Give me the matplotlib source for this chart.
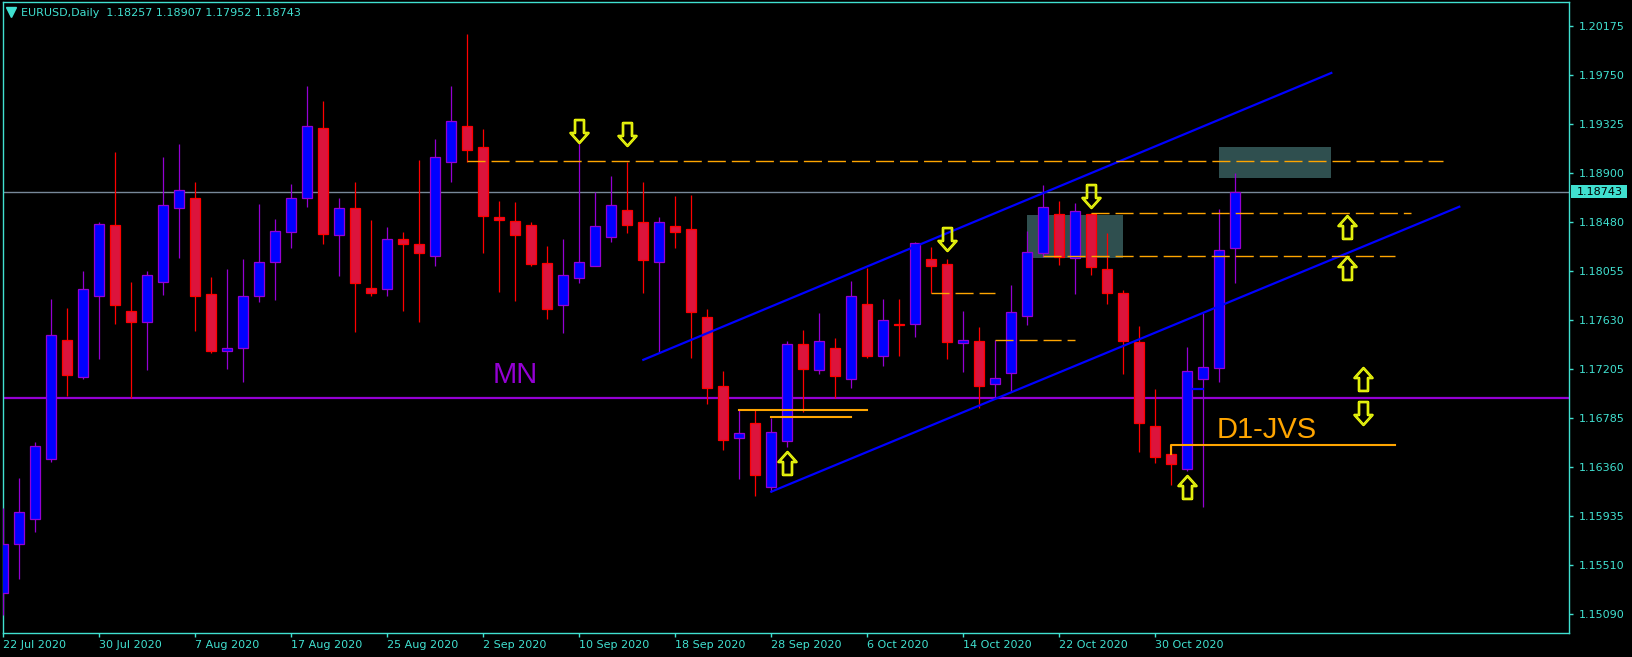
import numpy as np
import matplotlib
matplotlib.use('Agg')
import matplotlib.pyplot as plt
from matplotlib.path import Path
from matplotlib.patches import Rectangle
import matplotlib.transforms as mtransforms

# daily candles, 22 Jul 2020 .. 6 Nov 2020 (weekdays)
opens = [1.15269, 1.15693, 1.15908, 1.16434, 1.17457, 1.17136, 1.17837, 1.18450, 1.17709, 1.17619,
         1.17957, 1.18605, 1.18685, 1.17854, 1.17361, 1.17387, 1.17844, 1.18132, 1.18390, 1.18685,
         1.19290, 1.18370, 1.18598, 1.17907, 1.17903, 1.18337, 1.18287, 1.18189, 1.19002, 1.19307,
         1.19125, 1.18522, 1.18486, 1.18450, 1.18122, 1.17758, 1.17999, 1.18102, 1.18354, 1.18582,
         1.18477, 1.18138, 1.18443, 1.18419, 1.17655, 1.17066, 1.16609, 1.16738, 1.16192, 1.16586,
         1.17422, 1.17197, 1.17388, 1.17120, 1.17771, 1.17324, 1.17595, 1.17595, 1.18160, 1.18117,
         1.17431, 1.17448, 1.17076, 1.17171, 1.17664, 1.18209, 1.18549, 1.18166, 1.18549, 1.18073,
         1.17863, 1.17440, 1.16716, 1.16474, 1.16341, 1.17125, 1.17215, 1.18257]
highs = [1.16007, 1.16265, 1.16576, 1.17814, 1.17735, 1.18056, 1.18480, 1.19085, 1.17957, 1.18056,
         1.19042, 1.19155, 1.18827, 1.18003, 1.18073, 1.18158, 1.18636, 1.18506, 1.18807, 1.19658,
         1.19525, 1.18688, 1.18827, 1.18495, 1.18437, 1.18393, 1.19015, 1.19198, 1.19658, 1.20104,
         1.19280, 1.18662, 1.18651, 1.18477, 1.18271, 1.18330, 1.19167, 1.18741, 1.18877, 1.19002,
         1.18827, 1.18519, 1.18705, 1.18714, 1.17725, 1.17192, 1.16851, 1.16851, 1.16785, 1.17451,
         1.17546, 1.17690, 1.17474, 1.17970, 1.18080, 1.17814, 1.17814, 1.18310, 1.18264, 1.18160,
         1.17710, 1.17572, 1.17457, 1.17935, 1.18402, 1.18800, 1.18662, 1.18642, 1.18560, 1.18382,
         1.17892, 1.17581, 1.17036, 1.16551, 1.17396, 1.17690, 1.18590, 1.18907]
lows = [1.15080, 1.15395, 1.15802, 1.16404, 1.16973, 1.17120, 1.17298, 1.17602, 1.16957, 1.17202,
        1.17847, 1.18169, 1.17539, 1.17347, 1.17212, 1.17100, 1.17788, 1.17807, 1.18251, 1.18611,
        1.18291, 1.18016, 1.17530, 1.17837, 1.17837, 1.17711, 1.17619, 1.18102, 1.18827, 1.19002,
        1.18212, 1.17874, 1.17801, 1.18102, 1.17645, 1.17520, 1.17953, 1.18102, 1.18311, 1.18387,
        1.17867, 1.17354, 1.18251, 1.17305, 1.16907, 1.16504, 1.16256, 1.16113, 1.16146, 1.16537,
        1.16839, 1.17163, 1.16955, 1.17047, 1.17306, 1.17237, 1.17324, 1.17488, 1.17863, 1.17295,
        1.17185, 1.16874, 1.16955, 1.17021, 1.17589, 1.18180, 1.18108, 1.17857, 1.18022, 1.17771,
        1.17165, 1.16493, 1.16393, 1.16205, 1.16329, 1.16018, 1.17099, 1.17952]
closes = [1.15693, 1.15968, 1.16540, 1.17506, 1.17158, 1.17897, 1.18459, 1.17758, 1.17619, 1.18019,
          1.18631, 1.18761, 1.17844, 1.17361, 1.17387, 1.17844, 1.18138, 1.18406, 1.18691, 1.19307,
          1.18380, 1.18605, 1.17950, 1.17864, 1.18330, 1.18294, 1.18208, 1.19039, 1.19350, 1.19105,
          1.18535, 1.18499, 1.18370, 1.18115, 1.17731, 1.18019, 1.18138, 1.18443, 1.18625, 1.18457,
          1.18151, 1.18477, 1.18397, 1.17705, 1.17046, 1.16593, 1.16653, 1.16295, 1.16660, 1.17422,
          1.17206, 1.17448, 1.17151, 1.17840, 1.17324, 1.17630, 1.17590, 1.18296, 1.18102, 1.17445,
          1.17457, 1.17064, 1.17133, 1.17699, 1.18218, 1.18607, 1.18180, 1.18572, 1.18088, 1.17863,
          1.17453, 1.16739, 1.16450, 1.16387, 1.17191, 1.17223, 1.18238, 1.18743]

date_labels = ['22 Jul 2020', '30 Jul 2020', '7 Aug 2020', '17 Aug 2020', '25 Aug 2020',
               '2 Sep 2020', '10 Sep 2020', '18 Sep 2020', '28 Sep 2020', '6 Oct 2020',
               '14 Oct 2020', '22 Oct 2020', '30 Oct 2020']
date_bars = list(range(0, 78, 6))
price_ticks = [1.20175, 1.19750, 1.19325, 1.18900, 1.18480, 1.18055, 1.17630,
               1.17205, 1.16785, 1.16360, 1.15935, 1.15510, 1.15090]

# drawing objects (bar index, price)
mn_level = 1.16958
channel_upper = ([40.0, 83.0], [1.17288, 1.19769])
channel_lower = ([48.0, 91.0], [1.16148, 1.18612])
dashed_levels = [(29, 90, 1.19006), (68, 88, 1.18555), (65, 87, 1.18189),
                 (58, 62, 1.17863), (62, 67, 1.17457)]
solid_levels = [(46, 54, 1.16857), (48, 53, 1.16796)]
jvs_line = ([73, 73, 87], [1.16474, 1.16555, 1.16555])
zones = [(64.0, 69.96, 1.18171, 1.18540), (76.0, 83.0, 1.18863, 1.19130)]
arrows_down = [(36, 1.19263), (39, 1.19238), (59, 1.18331), (68, 1.18703), (85, 1.16832)]
arrows_up = [(49, 1.16393), (74, 1.16184), (84, 1.18439), (84, 1.18080), (85, 1.17120)]

FG = '#40E0D0'
BULL, BULL_EDGE = '#0000FF', '#9400D3'
BEAR, BEAR_EDGE = '#DC143C', '#FF0000'
ORANGE = '#FFA500'

plt.rcParams['font.family'] = ['DejaVu Sans']
fig = plt.figure(figsize=(16.33, 6.57), dpi=100, facecolor='black')
ax = fig.add_axes([2.7 / 1633, 23.7 / 657, 1566.6 / 1633, 631.0 / 657])
ax.set_facecolor('black')
ax.set_xlim(-0.0375, 97.875)
ax.set_ylim(1.14923, 1.20380)

# zones (background)
for x0, x1, p0, p1 in zones:
    ax.add_patch(Rectangle((x0, p0), x1 - x0, p1 - p0, facecolor='#2F4F4F', edgecolor='none', zorder=1))

# bid line and MN level (behind candles)
ax.axhline(closes[-1], color='#778899', lw=1.0, zorder=2)
ax.axhline(mn_level, color='#9400D3', lw=1.6, zorder=2)

# candles
o = np.array(opens); h = np.array(highs); l = np.array(lows); c = np.array(closes)
idx = np.arange(len(o))
up = c >= o
ax.vlines(idx[up], l[up], h[up], color=BULL_EDGE, lw=0.9, zorder=3)
ax.vlines(idx[~up], l[~up], h[~up], color=BEAR_EDGE, lw=0.9, zorder=3)
ax.bar(idx[up], c[up] - o[up], bottom=o[up], width=0.61, color=BULL, edgecolor=BULL_EDGE, linewidth=0.9, zorder=4)
ax.bar(idx[~up], o[~up] - c[~up], bottom=c[~up], width=0.61, color=BEAR, edgecolor=BEAR_EDGE, linewidth=0.9, zorder=4)

# channel
ax.plot(*channel_upper, color='#0000FF', lw=1.6, zorder=5)
ax.plot(*channel_lower, color='#0000FF', lw=1.6, zorder=5)
ax.plot([74.34, 75.0], [1.17033, 1.17033], color='#0000FF', lw=1.6, zorder=5)

# levels
for x0, x1, p in dashed_levels:
    ax.plot([x0, x1], [p, p], color=ORANGE, lw=1.0, dashes=(13, 4.3), zorder=5)
for x0, x1, p in solid_levels:
    ax.plot([x0, x1], [p, p], color=ORANGE, lw=1.5, zorder=5)
ax.plot(*jvs_line, color=ORANGE, lw=1.5, zorder=5)

# arrows (yellow outline with olive inner line)
up_verts = [(0, 11.5), (9, 1.5), (4.5, 1.5), (4.5, -11.5), (-4.5, -11.5), (-4.5, 1.5), (-9, 1.5), (0, 11.5)]
codes = [Path.MOVETO] + [Path.LINETO] * 6 + [Path.CLOSEPOLY]
up_arrow = Path(up_verts, codes)
down_arrow = Path([(x, -y) for x, y in up_verts], codes)
for pos, mk in ((arrows_up, up_arrow), (arrows_down, down_arrow)):
    xs = [a[0] for a in pos]; ys = [a[1] for a in pos]
    ax.plot(xs, ys, ls='none', marker=mk, markersize=16.5, markerfacecolor='none',
            markeredgecolor='#FFFF00', markeredgewidth=1.9, zorder=6)
    ax.plot(xs, ys, ls='none', marker=mk, markersize=16.5, markerfacecolor='none',
            markeredgecolor='#9ACD32', markeredgewidth=0.4, zorder=6)

# labels
ax.text(30.59, 1.1709, 'MN', color='#9400D3', fontsize=21, family='Liberation Sans', va='baseline', zorder=6)
ax.text(75.84, 1.16609, 'D1-JVS', color=ORANGE, fontsize=21, family='Liberation Sans', va='baseline', zorder=6)

ax.text(0.0118, 0.9835, 'EURUSD,Daily  %.5f %.5f %.5f %.5f' % (opens[-1], highs[-1], lows[-1], closes[-1]),
        transform=ax.transAxes, color=FG, fontsize=8, va='center', ha='left', zorder=7)
ax.plot([0.0050], [0.9840], transform=ax.transAxes, marker='v', markersize=6.5, color=FG,
        ls='none', clip_on=False, zorder=7)

# axes styling
for s in ax.spines.values():
    s.set_color(FG)
    s.set_linewidth(1.0)
ax.yaxis.tick_right()
ax.set_yticks(price_ticks)
ax.set_yticklabels(['%.5f' % p for p in price_ticks])
ax.set_xticks(date_bars)
ax.set_xticklabels(date_labels)
ax.tick_params(axis='both', colors=FG, labelcolor=FG, labelsize=8, length=3, width=1, direction='out')
ax.tick_params(axis='y', pad=4)
ax.tick_params(axis='x', pad=2)
plt.setp(ax.get_xticklabels(), ha='left')

# current price label
blend = mtransforms.blended_transform_factory(ax.transAxes, ax.transData)
ax.add_patch(Rectangle((1.0011, closes[-1] - 0.000575), 0.0356, 0.00115, transform=blend,
                       facecolor=FG, edgecolor='none', clip_on=False, zorder=8))
ax.text(1.00472, closes[-1], '%.5f' % closes[-1], transform=blend, color='black', fontsize=8,
        va='center', ha='left', clip_on=False, zorder=9)

fig.savefig('out.png', dpi=100, facecolor='black')
